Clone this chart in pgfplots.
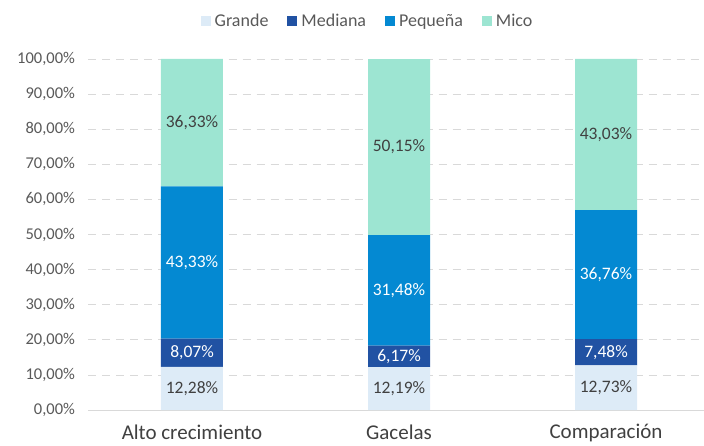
\documentclass[border=0pt]{standalone}
\usepackage{pgfplots}
\pgfplotsset{compat=1.18}
\usepackage{fontspec}
\setmainfont{Carlito}
\definecolor{cGrande}{HTML}{DDEBF7}
\definecolor{cMediana}{HTML}{2152A3}
\definecolor{cPeq}{HTML}{0489D2}
\definecolor{cMico}{HTML}{9DE5D2}
\definecolor{txtdark}{HTML}{404040}
\definecolor{txtgray}{HTML}{595959}
\definecolor{gridc}{HTML}{D9D9D9}
\pgfplotsset{
  base/.style={
    scale only axis, width=621pt, height=351pt,
    at={(0pt,0pt)}, anchor=south west,
    xmin=-0.5, xmax=2.5, ymin=0, ymax=100,
  }
}
\begin{document}
\begin{tikzpicture}
\path[use as bounding box] (-88.5pt,-35pt) rectangle (615.5pt,410pt);
\begin{axis}[base,
  ybar stacked, bar width=62pt,
  axis x line*=bottom, axis y line*=left,
  x axis line style={gridc, line width=0.8pt, -},
  y axis line style={draw=none},
  major tick length=0pt,
  ytick={0,10,...,100},
  yticklabels={{0,00\%},{10,00\%},{20,00\%},{30,00\%},{40,00\%},{50,00\%},{60,00\%},{70,00\%},{80,00\%},{90,00\%},{100,00\%}},
  y tick label style={font=\fontsize{16.5}{20}\selectfont, text=txtgray, xshift=-10pt},
  ymajorgrids, grid style={gridc, dash pattern=on 8pt off 6pt, line width=0.8pt},
  xtick={0,1,2}, xticklabels={Alto crecimiento,Gacelas,Comparación},
  x tick label style={font=\fontsize{21}{24}\selectfont, text=txtdark, yshift=-11pt},
  legend style={at={(0.451,1)}, anchor=center, yshift=38pt, draw=none, fill=none,
    legend columns=4, font=\fontsize{18}{20}\selectfont, text=txtgray,
    /tikz/every even column/.append style={column sep=15pt},
    nodes={inner xsep=4pt}},
  legend image code/.code={\fill[#1] (0pt,-5pt) rectangle (10pt,5pt);},
]
\addplot[fill=cGrande, draw=none] coordinates {(0,12.28) (1,12.19) (2,12.73)};
\addplot[fill=cMediana, draw=none] coordinates {(0,8.07) (1,6.17) (2,7.48)};
\addplot[fill=cPeq, draw=none] coordinates {(0,43.33) (1,31.48) (2,36.76)};
\addplot[fill=cMico, draw=none] coordinates {(0,36.33) (1,50.15) (2,43.03)};
\legend{Grande,Mediana,Pequeña,Mico}
\end{axis}
\begin{axis}[base,
  hide axis, clip=false,
  nodes near coords, point meta=explicit symbolic,
  every node near coord/.append style={anchor=center, font=\fontsize{17.5}{20}\selectfont},
]
\addplot[only marks, mark=none, nodes near coords style={text=txtdark}] coordinates {
  (0,6.14)[12,28\%] (1,6.095)[12,19\%] (2,6.365)[12,73\%]
  (0,81.845)[36,33\%] (1,74.915)[50,15\%] (2,78.485)[43,03\%]};
\addplot[only marks, mark=none, nodes near coords style={text=white}] coordinates {
  (0,16.315)[8,07\%] (1,15.275)[6,17\%] (2,16.47)[7,48\%]
  (0,42.015)[43,33\%] (1,34.10)[31,48\%] (2,38.59)[36,76\%]};
\end{axis}
\end{tikzpicture}
\end{document}
